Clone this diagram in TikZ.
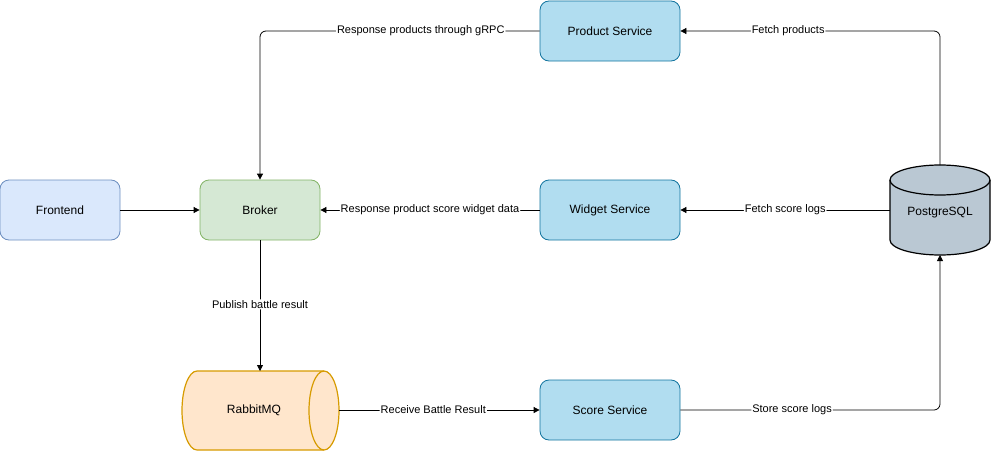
\documentclass[tikz,border=0pt]{standalone}
\usepackage{fontspec}
\setmainfont{Liberation Sans}
\usetikzlibrary{arrows.meta}
\definecolor{feFill}{HTML}{DAE8FC}\definecolor{feLine}{HTML}{6C8EBF}
\definecolor{brFill}{HTML}{D5E8D4}\definecolor{brLine}{HTML}{82B366}
\definecolor{svFill}{HTML}{B1DDF0}\definecolor{svLine}{HTML}{10739E}
\definecolor{rbFill}{HTML}{FFE6CC}\definecolor{rbLine}{HTML}{D79B00}
\definecolor{pgFill}{HTML}{BAC8D3}\definecolor{pgLine}{HTML}{000000}
\tikzset{
  box/.style={draw, rounded corners=9pt, minimum width=120pt, minimum height=60pt, font=\fontsize{12}{14}\selectfont, line width=0.8pt, inner sep=0pt},
  svc/.style={box, fill=svFill, draw=svLine, minimum width=140pt},
  conn/.style={draw, line width=0.8pt, -{Triangle[length=6pt,width=6pt]}, rounded corners=6pt},
  lbl/.style={fill=white, font=\fontsize{11}{13}\selectfont, inner sep=1pt},
}
\begin{document}
\begin{tikzpicture}[x=1pt,y=-1pt]
\useasboundingbox (0,0) rectangle (992,452);
% nodes
\node[box, fill=feFill, draw=feLine] (fe) at (60,210) {Frontend};
\node[box, fill=brFill, draw=brLine] (br) at (260,210) {Broker};
\node[svc] (ps) at (610,31) {Product Service};
\node[svc] (ws) at (610,210) {Widget Service};
\node[svc] (ss) at (610,410) {Score Service};
% RabbitMQ horizontal cylinder
\filldraw[fill=rbFill, draw=rbLine, line width=1.2pt]
  (197,371) -- (324,371) arc[start angle=-90, end angle=90, x radius=15, y radius=39.5]
  -- (197,450) arc[start angle=90, end angle=270, x radius=15, y radius=39.5] -- cycle;
\draw[rbLine, line width=1.2pt] (324,371) arc[start angle=-90, end angle=-270, x radius=15, y radius=39.5];
\node[font=\fontsize{12}{14}\selectfont, inner sep=0pt] (rb) at (254,410) {RabbitMQ};
\coordinate (rbR) at (339,410);
\coordinate (rbT) at (260,371);
% PostgreSQL vertical cylinder
\filldraw[fill=pgFill, draw=pgLine, line width=1.2pt]
  (890,180) -- (890,240) arc[start angle=180, end angle=360, x radius=50, y radius=-15]
  -- (990,180) arc[start angle=0, end angle=180, x radius=50, y radius=-15] -- cycle;
\draw[pgLine, line width=1.2pt] (890,180) arc[start angle=180, end angle=360, x radius=50, y radius=-15];
\node[font=\fontsize{12}{14}\selectfont, inner sep=0pt] (pg) at (940,213) {PostgreSQL};
\coordinate (pgT) at (940,165);
\coordinate (pgB) at (940,255);
\coordinate (pgL) at (890,210);
% connectors
\draw[conn] (fe) -- (br);
\draw[conn] (ps.west) -- node[lbl, pos=0.425] {Response products through gRPC} (260,31) -- (br.north);
\draw[conn] (pgT) -- (940,31) -- node[lbl, pos=0.585] {Fetch products} (ps.east);
\draw[conn] (pgL) -- node[lbl, pos=0.5] {Fetch score logs} (ws.east);
\draw[conn] (ws.west) -- node[lbl, pos=0.5] {Response product score widget data} (br.east);
\draw[conn] (br.south) -- node[lbl, pos=0.49] {Publish battle result} (rbT);
\draw[conn] (rbR) -- node[lbl, pos=0.47] {Receive Battle Result} (ss.west);
\draw[conn] (ss.east) -- node[lbl, pos=0.43] {Store score logs} (940,410) -- (pgB);
\end{tikzpicture}
\end{document}
